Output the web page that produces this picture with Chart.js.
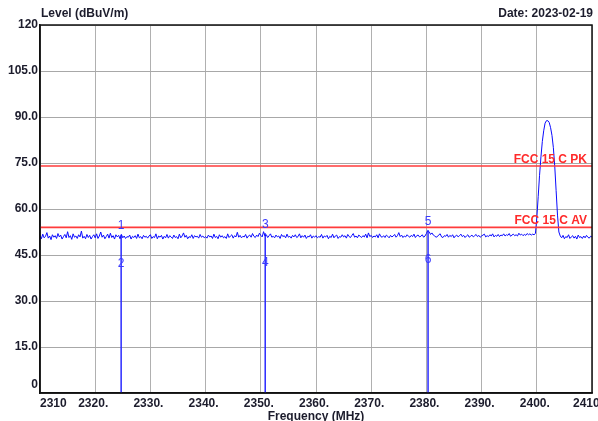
<!DOCTYPE html>
<html>
<head>
<meta charset="utf-8">
<script src="https://cdn.jsdelivr.net/npm/chart.js@4"></script>
<style>
  body { margin: 0; background: #fff; }
  #chart { display: block; }
</style>
</head>
<body>
<canvas id="chart" width="598" height="421"></canvas>
<script>
// Sweep: 2310 - 2410 MHz, one reading every 0.25 MHz (40 readings per 10 MHz)
const sweepStart = 2310;
const sweepStep = 0.25;
const traceLevels = [
  // 2310
  51.4, 50.3, 51.8, 50.6, 51.1, 52.3, 50.5, 51.2, 50.0, 51.6,
  50.8, 51.3, 50.4, 52.0, 50.9, 51.5, 50.2, 51.0, 51.7, 50.6,
  52.6, 50.7, 51.3, 50.1, 51.9, 50.8, 51.2, 50.4, 51.6, 50.9,
  52.8, 50.5, 51.1, 50.3, 51.7, 50.7, 51.4, 50.2, 51.0, 51.6,
  // 2320
  50.6, 51.9, 50.4, 51.2, 52.5, 50.8, 51.5, 50.3, 51.0, 51.8,
  50.5, 52.1, 50.7, 51.3, 50.2, 51.6, 50.9, 51.4, 50.3, 51.7,
  50.6, 51.2, 50.4, 51.0, 50.8, 51.5, 50.2, 51.1, 50.7, 51.3,
  50.4, 51.8, 50.6, 51.0, 50.3, 51.4, 50.8, 51.1, 50.5, 51.2,
  // 2330
  51.6, 50.4, 51.0, 50.7, 51.9, 50.3, 51.2, 50.8, 51.4, 50.2,
  51.1, 50.6, 51.7, 50.5, 51.3, 50.9, 50.4, 51.5, 50.7, 51.0,
  50.3, 51.8, 50.6, 51.2, 52.2, 50.8, 51.4, 50.3, 51.0, 50.7,
  51.6, 50.4, 51.3, 50.9, 51.1, 50.5, 51.7, 50.8, 51.2, 50.6,
  // 2340
  51.0, 50.5, 51.5, 50.9, 51.2, 50.4, 51.8, 50.7, 51.1, 50.3,
  51.6, 50.8, 51.3, 50.6, 51.0, 50.4, 51.9, 50.7, 51.2, 51.6,
  50.5, 51.3, 50.9, 52.4, 50.8, 51.4, 50.6, 51.1, 50.9, 51.7,
  50.5, 51.2, 51.5, 50.8, 52.0, 51.1, 50.7, 51.5, 51.0, 52.1,
  // 2350
  51.4, 50.9, 52.6, 51.2, 51.6, 50.7, 51.3, 51.9, 50.8, 51.1,
  50.6, 51.5, 50.9, 51.2, 50.4, 51.7, 51.0, 51.3, 50.6, 51.8,
  50.8, 51.1, 50.5, 51.4, 50.9, 51.6, 50.7, 51.0, 51.9, 50.6,
  51.3, 50.8, 51.5, 50.4, 51.1, 50.9, 51.6, 50.5, 51.2, 50.8,
  // 2360
  51.3, 50.6, 51.0, 50.8, 51.7, 50.5, 51.2, 50.9, 51.4, 50.3,
  51.1, 50.7, 51.8, 50.6, 51.2, 51.5, 50.4, 51.0, 50.8, 51.6,
  50.9, 51.3, 50.5, 51.7, 51.0, 50.7, 51.4, 52.0, 50.8, 51.2,
  50.6, 51.5, 51.1, 50.7, 51.3, 50.9, 51.8, 50.6, 52.2, 51.0,
  // 2370
  51.4, 50.7, 51.2, 50.9, 51.6, 50.6, 51.9, 51.0, 50.8, 51.3,
  50.7, 51.5, 51.1, 50.6, 51.4, 50.9, 51.2, 51.7, 50.8, 51.3,
  52.3, 51.0, 51.5, 50.7, 51.2, 50.9, 51.6, 51.1, 50.8, 51.4,
  51.0, 51.8, 50.7, 51.3, 51.5, 50.9, 51.1, 51.6, 50.8, 51.2,
  // 2380
  52.0, 53.0, 52.6, 51.7, 52.2, 51.5, 51.2, 50.8, 51.0, 51.6,
  51.9, 50.9, 50.7, 51.3, 51.1, 51.7, 50.8, 51.4, 51.0, 51.6,
  50.6, 51.2, 51.5, 50.9, 51.3, 51.8, 51.0, 51.4, 50.7, 51.2,
  51.6, 50.8, 51.1, 51.5, 50.9, 51.3, 51.7, 51.0, 51.4, 50.8,
  // 2390
  51.2, 51.5, 51.8, 50.9, 51.3, 51.0, 51.6, 51.2, 51.9, 50.9,
  51.4, 51.1, 51.7, 51.0, 51.5, 51.3, 51.9, 51.2, 51.6, 51.4,
  52.0, 51.1, 51.5, 51.8, 51.3, 51.6, 51.2, 52.1, 51.5, 51.8,
  51.3, 51.7, 51.4, 52.0, 51.6, 51.9, 51.5, 51.8, 51.6, 52.0,
  // 2400
  57.0, 64.0, 71.0, 77.0, 82.0, 85.5, 88.0, 88.8, 88.8, 88.2,
  86.5, 84.0, 80.0, 74.0, 66.0, 58.0, 52.5, 51.2, 50.6, 51.4,
  50.3, 51.0, 50.7, 51.6, 50.4, 50.9, 51.3, 50.5, 51.1, 50.2,
  51.5, 50.7, 51.0, 50.4, 51.2, 50.6, 51.4, 50.8, 50.5, 51.1,
  // 2410
  50.9
];

// Markers (odd = reading on the trace, even = drop-out to 0)
const markerFreqs = [2324.7, 2350.8, 2380.3];
const markerLevels = [51.6, 52.1, 53.0];
const markerNames = [["1", "2"], ["3", "4"], ["5", "6"]];

// Limit lines
const limitNames = ["FCC 15 C PK", "FCC 15 C AV"];
const limitLevels = [74, 54];

// Axes
const freqTicks = [2310, 2320, 2330, 2340, 2350, 2360, 2370, 2380, 2390, 2400, 2410];
const freqTickLabels = ["2310", "2320.", "2330.", "2340.", "2350.", "2360.", "2370.", "2380.", "2390.", "2400.", "2410"];
const levelTicks = [0, 15, 30, 45, 60, 75, 90, 105, 120];
const levelTickLabels = ["0", "15.0", "30.0", "45.0", "60.0", "75.0", "90.0", "105.0", "120"];

const textColor = "#1c1c2c";
const boldFont = "bold 12px 'Liberation Sans', Arial, sans-serif";

const tracePoints = traceLevels.map((v, i) => ({ x: sweepStart + i * sweepStep, y: v }));

const spikePoints = [];
markerFreqs.forEach((f, i) => {
  spikePoints.push({ x: f, y: markerLevels[i] });
  spikePoints.push({ x: f, y: 0 });
  spikePoints.push({ x: f, y: null });
});

const limitDatasets = limitLevels.map((lv, i) => ({
  label: limitNames[i],
  data: [{ x: sweepStart, y: lv }, { x: 2410, y: lv }],
  borderColor: "#ff3b3b",
  borderWidth: 1.6,
  pointRadius: 0,
}));

// Draws frame, axis labels, titles, limit and marker labels
const annotate = {
  id: "annotate",
  afterDraw(chart) {
    const ctx = chart.ctx;
    const area = chart.chartArea;
    const xs = chart.scales.x;
    const ys = chart.scales.y;
    ctx.save();

    // frame
    ctx.strokeStyle = "#111";
    ctx.lineWidth = 1.5;
    ctx.strokeRect(area.left, area.top, area.right - area.left, area.bottom - area.top);

    ctx.fillStyle = textColor;
    ctx.font = boldFont;

    // y tick labels
    ctx.textAlign = "right";
    ctx.textBaseline = "middle";
    levelTicks.forEach((t, i) => {
      let y = ys.getPixelForValue(t);
      if (t === 0) y -= 8;
      ctx.fillText(levelTickLabels[i], area.left - 2, y);
    });

    // x tick labels
    freqTicks.forEach((t, i) => {
      const x = xs.getPixelForValue(t);
      if (i === 0) {
        ctx.textAlign = "left";
        ctx.fillText(freqTickLabels[i], x, area.bottom + 11);
      } else if (i === freqTicks.length - 1) {
        ctx.textAlign = "left";
        ctx.fillText(freqTickLabels[i], x - 19, area.bottom + 11);
      } else {
        ctx.textAlign = "center";
        ctx.fillText(freqTickLabels[i], x - 2, area.bottom + 11);
      }
    });

    // titles
    ctx.textAlign = "left";
    ctx.fillText("Level (dBuV/m)", area.left + 1, 14);
    ctx.textAlign = "right";
    ctx.fillText("Date: 2023-02-19", area.right + 1, 14);
    ctx.textAlign = "center";
    ctx.fillText("Frequency (MHz)", (area.left + area.right) / 2, area.bottom + 24);

    // limit labels
    ctx.fillStyle = "#ff2a2a";
    ctx.textAlign = "right";
    ctx.textBaseline = "alphabetic";
    limitLevels.forEach((lv, i) => {
      ctx.fillText(limitNames[i], area.right - 5, ys.getPixelForValue(lv) - 3);
    });

    // marker labels
    ctx.fillStyle = "#3a3aff";
    ctx.font = "12px 'Liberation Sans', Arial, sans-serif";
    ctx.textAlign = "center";
    ctx.textBaseline = "middle";
    markerFreqs.forEach((f, i) => {
      const x = xs.getPixelForValue(f);
      const y = ys.getPixelForValue(markerLevels[i]);
      ctx.fillText(markerNames[i][0], x, y - 9);
      ctx.fillText(markerNames[i][1], x, y + 29);
    });

    ctx.restore();
  },
};

new Chart(document.getElementById("chart"), {
  type: "line",
  data: {
    datasets: [
      ...limitDatasets,
      {
        label: "Trace",
        data: tracePoints,
        borderColor: "#0a0aff",
        borderWidth: 1,
        pointRadius: 0,
        tension: 0,
      },
      {
        label: "Markers",
        data: spikePoints,
        borderColor: "#2b2bff",
        borderWidth: 1.5,
        pointRadius: 0,
        spanGaps: false,
      },
    ],
  },
  options: {
    responsive: false,
    animation: false,
    layout: { padding: { left: 40, top: 25, right: 6, bottom: 28 } },
    scales: {
      x: {
        type: "linear",
        min: 2310,
        max: 2410,
        ticks: { display: false, stepSize: 10 },
        grid: { color: "#b0b0b0", lineWidth: 1, drawTicks: false },
        border: { color: "#111", width: 1.5 },
      },
      y: {
        min: 0,
        max: 120,
        ticks: { display: false, stepSize: 15 },
        grid: { color: "#a8a8a8", lineWidth: 1, drawTicks: false },
        border: { color: "#111", width: 1.5 },
      },
    },
    plugins: {
      legend: { display: false },
      tooltip: { enabled: false },
    },
  },
  plugins: [annotate],
});
</script>
</body>
</html>
